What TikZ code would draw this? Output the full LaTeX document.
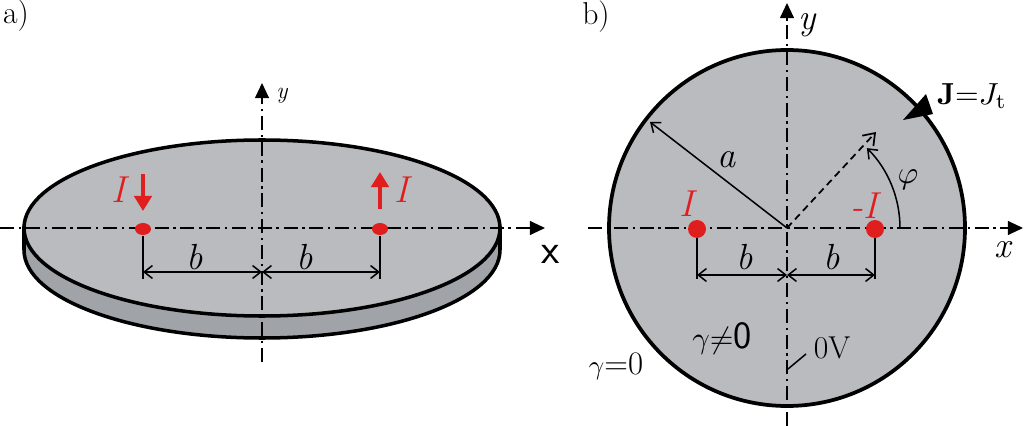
\documentclass[tikz,border=0pt]{standalone}
\usepackage{graphicx}
\usetikzlibrary{arrows.meta}
\newcommand{\fs}[1]{\fontsize{#1}{#1}\selectfont}
\begin{document}
\begin{tikzpicture}[x=0.03cm,y=-0.03cm,
  axis/.style={dash pattern=on 12pt off 4pt on 2pt off 4pt,line width=1.2pt},
  dimarr/.style={{Straight Barb[length=7pt,width=11pt]}-{Straight Barb[length=7pt,width=11pt]},line width=1.3pt},
  lab/.style={font=\fs{31}\itshape},
  redlab/.style={font=\fs{32}\itshape,text=rd}]
\definecolor{disk}{RGB}{185,187,190}
\definecolor{side}{RGB}{160,163,168}
\definecolor{rd}{RGB}{225,30,30}
\useasboundingbox (0,0) rectangle (1024,426);
% ---- panel a
\node (pa) at (16,16) {\fs{27}a)};
\fill[side,draw=black,line width=3pt] (24,228) -- (24,250) arc[start angle=180,end angle=0,x radius=238,y radius=88] -- (500,228) -- cycle;
\draw[fill=disk,line width=3pt] (262,228) ellipse[x radius=238,y radius=88];
\coordinate (axl) at (0,228); \coordinate (axr) at (545,228);
\draw[axis,-{Triangle[length=13pt,width=12pt]}] (axl) -- (axr);
\coordinate (ayb) at (262,362); \coordinate (ayt) at (262,83);
\draw[axis,-{Triangle[length=13pt,width=12pt]}] (ayb) -- (ayt);
\node (xa) at (551,254) {\fs{36}\sffamily x};
\node[font=\fs{20}\itshape] (ya) at (282,96) {y};
\fill[rd] (143,229) ellipse[x radius=8,y radius=6];
\fill[rd] (380,229) ellipse[x radius=8,y radius=6];
\draw[rd,line width=3.2pt,-{Triangle[length=13pt,width=15pt]}] (143,174) -- (143,211);
\draw[rd,line width=3.2pt,-{Triangle[length=13pt,width=15pt]}] (380,209) -- (380,172);
\node[redlab] (Ia) at (119,190) {I};
\node[redlab] (Ib) at (402,190) {I};
\draw[line width=1.3pt] (143,236) -- (143,279);
\draw[line width=1.3pt] (380,236) -- (380,279);
\coordinate (m1) at (143,272); \coordinate (m2) at (262,272); \coordinate (m3) at (380,272);
\draw[dimarr] (m1) -- (m2);
\draw[dimarr] (m2) -- (m3);
\node[lab] (ba1) at (195,257) {b};
\node[lab] (ba2) at (305,257) {b};
% ---- panel b
\node (pb) at (596,17) {\fs{27}b)};
\coordinate (O) at (787,228);
\draw[fill=disk,line width=3.2pt] (O) circle[radius=178];
\draw[axis,-{Triangle[length=13pt,width=12pt]}] (588,228) -- (1023,228);
\draw[axis,-{Triangle[length=13pt,width=12pt]}] (787,426) -- (787,3);
\node[lab] (xb) at (1003,250) {x};
\node[lab] (yb) at (807,25) {y};
\fill[rd] (697,229) circle[radius=9];
\fill[rd] (875,229) circle[radius=9];
\node[redlab] (Ic) at (687,204) {I};
\node[redlab] (Id) at (864,206) {-I};
\draw[line width=1.3pt] (697,238) -- (697,279);
\draw[line width=1.3pt] (875,238) -- (875,279);
\coordinate (n1) at (697,275); \coordinate (n2) at (787,275); \coordinate (n3) at (875,275);
\draw[dimarr] (n1) -- (n2);
\draw[dimarr] (n2) -- (n3);
\node[lab] (bb1) at (745,257) {b};
\node[lab] (bb2) at (832,257) {b};
\coordinate (R) at (650,122);
\draw[line width=1.3pt,-{Straight Barb[length=7pt,width=11pt]}] (O) -- (R);
\node[lab] (al) at (727,160) {a};
\coordinate (D) at (876,132);
\draw[dash pattern=on 6pt off 4pt,line width=1.5pt,-{Straight Barb[open,length=9pt,width=13pt]}] (O) -- (D);
\draw[line width=1.3pt,-{Straight Barb[length=7pt,width=11pt]}] (900,228) arc[start angle=0,end angle=-45,radius=113];
\node (phi) at (908,180) {\scalebox{2.7}{$\varphi$}};
\fill (933,114) -- (903,120) -- (926,94) -- cycle;
\node (J) at (972,96) {\scalebox{2.6}{$\mathbf{J}{=}J_{\mathrm{t}}$}};
\coordinate (t1) at (788,369); \coordinate (t2) at (806,354);
\draw[line width=1.3pt] (t1) -- (t2);
\node[font=\fs{27}] (ov) at (832,348) {0V};
\node (g1) at (722,338) {\scalebox{2.6}{$\gamma{\neq}$}{\fs{33}\sffamily 0}};
\node (g2) at (616,366) {\scalebox{2.3}{$\gamma$}{\fs{28}=0}};
\end{tikzpicture}
\end{document}
